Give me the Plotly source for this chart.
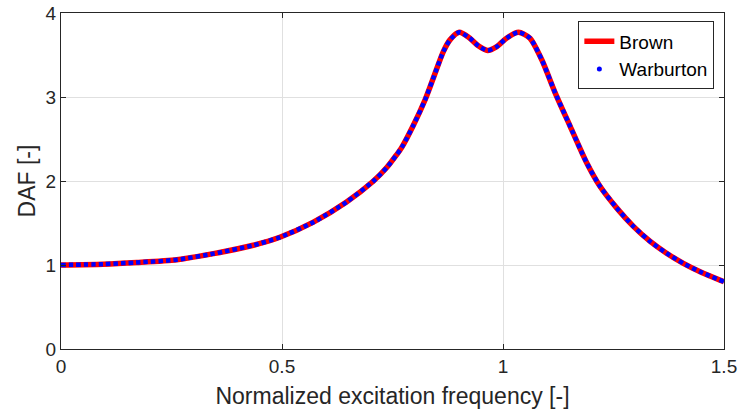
import plotly.graph_objects as go

# Dynamic amplification factor vs. normalized excitation frequency
freq = [0.0, 0.095, 0.171, 0.262, 0.345, 0.435, 0.495, 0.571, 0.646, 0.707,
        0.737, 0.759, 0.771, 0.797, 0.824, 0.842, 0.865, 0.880, 0.901, 0.925,
        0.944, 0.965, 0.986, 1.008, 1.035, 1.061, 1.088, 1.118, 1.152, 1.189,
        1.219, 1.257, 1.295, 1.333, 1.370, 1.408, 1.446, 1.500]
daf = [1.00, 1.01, 1.03, 1.063, 1.135, 1.235, 1.33, 1.51, 1.75, 2.00,
       2.16, 2.31, 2.40, 2.66, 2.97, 3.22, 3.54, 3.68, 3.77, 3.70,
       3.61, 3.555, 3.60, 3.70, 3.77, 3.70, 3.44, 3.05, 2.65, 2.22,
       1.94, 1.68, 1.46, 1.28, 1.14, 1.02, 0.92, 0.80]

x_ticks = [0, 0.5, 1, 1.5]
x_tick_text = ["0", "0.5", "1", "1.5"]
y_ticks = [0, 1, 2, 3, 4]

FONT = "Liberation Sans, Arial, Helvetica, sans-serif"
AX = "#262626"

fig = go.Figure()
fig.add_trace(go.Scatter(
    x=freq, y=daf, mode="lines", name="Brown",
    line=dict(color="#ff0000", width=5.5, shape="spline", smoothing=0.7),
))
fig.add_trace(go.Scatter(
    x=freq, y=daf, mode="lines", name="Warburton", showlegend=False,
    line=dict(color="#0000ff", width=4.5, shape="spline", smoothing=0.7,
              dash="4.5px,3px"),
))
# legend entry drawn as a single dot
fig.add_trace(go.Scatter(
    x=[None], y=[None], mode="markers", name="Warburton",
    marker=dict(color="#0000ff", size=5),
))

axis_common = dict(
    showline=True, linecolor=AX, linewidth=1, mirror="ticks",
    ticks="inside", ticklen=5, tickcolor=AX, tickwidth=1,
    showgrid=True, gridcolor="#e0e0e0", gridwidth=1, zeroline=False,
    tickfont=dict(family=FONT, size=19, color=AX),
    automargin=False,
)

fig.update_layout(
    width=739, height=412,
    margin=dict(l=61, r=15, t=13, b=63),
    paper_bgcolor="white", plot_bgcolor="white",
    font=dict(family=FONT, color=AX),
    showlegend=True,
    legend=dict(
        x=0.985, y=0.976, xanchor="right", yanchor="top",
        bgcolor="white", bordercolor=AX, borderwidth=1.3,
        font=dict(family=FONT, size=19, color="#000000"),
        tracegroupgap=0, itemwidth=30,
    ),
    xaxis=dict(
        range=[0, 1.5], tickvals=x_ticks, ticktext=x_tick_text,
        title=dict(text="Normalized excitation frequency [-]",
                   font=dict(family=FONT, size=23, color=AX), standoff=12),
        **axis_common,
    ),
    yaxis=dict(
        range=[0, 4], tickvals=y_ticks,
        title=dict(text="DAF [-]", font=dict(family=FONT, size=23, color=AX),
                   standoff=3),
        **axis_common,
    ),
)

fig.write_html("out.html")
